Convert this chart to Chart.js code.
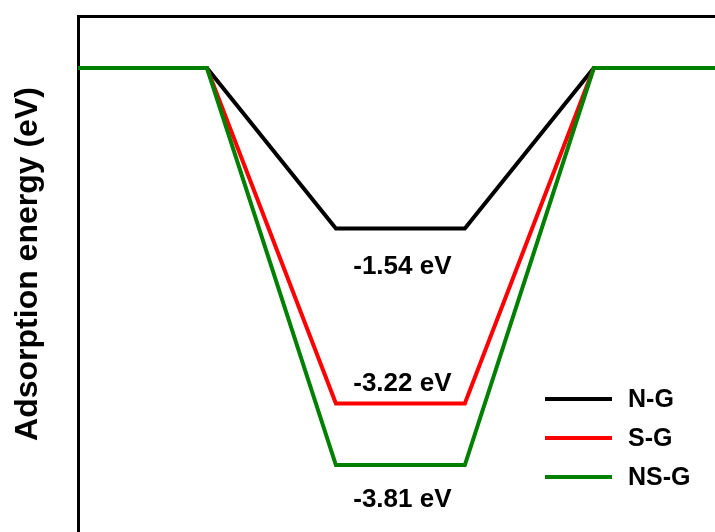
<!DOCTYPE html>
<html>
<head>
<meta charset="utf-8">
<script src="https://cdn.jsdelivr.net/npm/chart.js@4.4.1/dist/chart.umd.min.js"></script>
<style>
  html, body { margin: 0; padding: 0; background: #fff; overflow: hidden; }
  #wrap { width: 715px; height: 532px; }
</style>
</head>
<body>
<div id="wrap"><canvas id="myChart" width="715" height="532"></canvas></div>
<script>
// reaction path steps (x) and adsorption energies (eV)
var steps = [0, 1, 2, 3, 4, 5];
var seriesNames = ['N-G', 'S-G', 'NS-G'];
var seriesColors = ['#000000', '#ff0000', '#008000'];
var ngValues = [0, 0, -1.54, -1.54, 0, 0];
var sgValues = [0, 0, -3.22, -3.22, 0, 0];
var nsgValues = [0, 0, -3.81, -3.81, 0, 0];
var energyLabels = ['-1.54 eV', '-3.22 eV', '-3.81 eV'];
var yTitle = 'Adsorption energy (eV)';
// label offset from its level line, px (positive = below)
var labelOffsets = [38, -20, 35];

var FONT = '"Liberation Sans", Arial, Helvetica, sans-serif';
var allValues = [ngValues, sgValues, nsgValues];

function toPoints(vals) {
    return steps.map(function(s, i) { return { x: s, y: vals[i] }; });
}

var datasets = seriesNames.map(function(name, i) {
    return {
        label: name,
        data: toPoints(allValues[i]),
        borderColor: seriesColors[i],
        backgroundColor: seriesColors[i],
        borderWidth: 4,
        borderJoinStyle: 'miter',
        pointRadius: 0,
        tension: 0,
        fill: false,
        order: seriesNames.length - i  // NS-G on top
    };
});

var labelsPlugin = {
    id: 'energyLabels',
    afterDatasetsDraw: function(chart) {
        var ctx = chart.ctx;
        var xs = chart.scales.x, ys = chart.scales.y;
        ctx.save();
        ctx.fillStyle = '#000';
        ctx.font = 'bold 26px ' + FONT;
        ctx.textAlign = 'center';
        ctx.textBaseline = 'middle';
        allValues.forEach(function(vals, i) {
            var cx = (xs.getPixelForValue(steps[2]) + xs.getPixelForValue(steps[3])) / 2 + 2;
            var cy = ys.getPixelForValue(vals[2]) + labelOffsets[i];
            ctx.fillText(energyLabels[i], cx, cy);
        });
        // legend
        ctx.font = 'bold 25px ' + FONT;
        ctx.textAlign = 'left';
        seriesNames.forEach(function(name, i) {
            var y = 399 + i * 39;
            ctx.strokeStyle = seriesColors[i];
            ctx.lineWidth = 4;
            ctx.beginPath();
            ctx.moveTo(545, y);
            ctx.lineTo(612, y);
            ctx.stroke();
            ctx.fillText(name, 628, y + 1);
        });
        // y axis title
        ctx.translate(28, 264);
        ctx.rotate(-Math.PI / 2);
        ctx.textAlign = 'center';
        ctx.font = 'bold 32px ' + FONT;
        ctx.fillText(yTitle, 0, 0);
        ctx.restore();
    }
};

var ctx = document.getElementById('myChart').getContext('2d');
var myChart = new Chart(ctx, {
    type: 'line',
    data: { datasets: datasets },
    options: {
        responsive: false,
        animation: false,
        devicePixelRatio: 1,
        layout: { padding: 0 },
        plugins: {
            legend: { display: false },
            tooltip: { enabled: false },
            title: { display: false }
        },
        scales: {
            x: {
                type: 'linear',
                position: 'top',
                min: 0,
                max: 4.94,
                ticks: { display: false },
                grid: { display: false, drawTicks: false },
                border: { display: true, color: '#000', width: 3 },
                afterFit: function(s) { s.height = 16; }
            },
            y: {
                type: 'linear',
                min: -4.453,
                max: 0.5,
                ticks: { display: false },
                grid: { display: false, drawTicks: false },
                border: { display: true, color: '#000', width: 3 },
                title: { display: false },
                afterFit: function(s) { s.width = 78; }
            }
        }
    },
    plugins: [labelsPlugin]
});
</script>
</body>
</html>
